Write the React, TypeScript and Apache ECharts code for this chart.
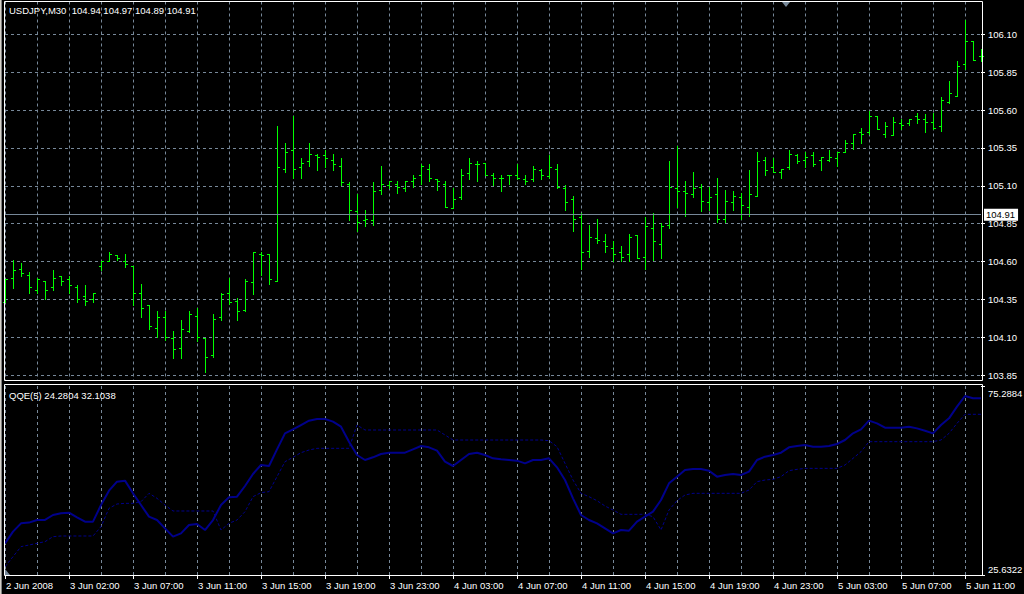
import React, { useEffect, useRef } from "react";
import * as echarts from "echarts";

// ---- Data ----
const tickLabels = [
  "2 Jun 2008", "3 Jun 02:00", "3 Jun 07:00", "3 Jun 11:00", "3 Jun 15:00", "3 Jun 19:00",
  "3 Jun 23:00", "4 Jun 03:00", "4 Jun 07:00", "4 Jun 11:00", "4 Jun 15:00", "4 Jun 19:00",
  "4 Jun 23:00", "5 Jun 03:00", "5 Jun 07:00", "5 Jun 11:00",
];

const openP = [
  104.33, 104.49, 104.55, 104.51, 104.41, 104.47, 104.43, 104.50, 104.48, 104.43,
  104.37, 104.35, 104.57, 104.60, 104.64, 104.60, 104.57, 104.39, 104.31, 104.16,
  104.23, 104.09, 104.03, 104.14, 104.24, 104.09, 103.98, 104.23, 104.39, 104.34,
  104.28, 104.46, 104.65, 104.65, 104.47, 105.21, 105.33, 105.22, 105.26, 105.30,
  105.30, 105.27, 105.23, 105.11, 104.93, 104.87, 104.87, 105.07, 105.10, 105.11,
  105.08, 105.13, 105.17, 105.21, 105.14, 105.11, 104.95, 105.02, 105.18, 105.24,
  105.25, 105.17, 105.15, 105.17, 105.17, 105.14, 105.14, 105.20, 105.16, 105.21,
  105.08, 105.01, 104.89, 104.67, 104.75, 104.73, 104.69, 104.66, 104.65, 104.77,
  104.63, 104.82, 104.71, 104.84, 105.08, 105.06, 105.04, 105.09, 104.99, 105.04,
  104.88, 104.99, 105.02, 104.96, 105.03, 105.27, 105.22, 105.19, 105.22, 105.30,
  105.27, 105.30, 105.27, 105.27, 105.28, 105.32, 105.38, 105.45, 105.45, 105.56,
  105.44, 105.43, 105.51, 105.51, 105.56, 105.54, 105.52, 105.49, 105.65, 105.69,
  105.90, 106.05, 105.95,
];
const highP = [
  104.48, 104.61, 104.59, 104.53, 104.49, 104.47, 104.54, 104.50, 104.50, 104.44,
  104.44, 104.39, 104.60, 104.66, 104.64, 104.65, 104.57, 104.45, 104.31, 104.27,
  104.27, 104.14, 104.21, 104.27, 104.29, 104.09, 104.25, 104.39, 104.49, 104.36,
  104.48, 104.66, 104.66, 104.65, 105.49, 105.38, 105.56, 105.28, 105.38, 105.31,
  105.33, 105.31, 105.28, 105.12, 105.04, 104.94, 105.12, 105.23, 105.13, 105.13,
  105.13, 105.17, 105.24, 105.24, 105.14, 105.13, 105.08, 105.21, 105.28, 105.26,
  105.25, 105.18, 105.17, 105.17, 105.24, 105.17, 105.23, 105.21, 105.30, 105.24,
  105.10, 105.03, 104.92, 104.84, 104.88, 104.78, 104.73, 104.70, 104.78, 104.77,
  104.89, 104.92, 104.85, 105.26, 105.36, 105.13, 105.19, 105.11, 105.09, 105.15,
  105.07, 105.06, 105.05, 105.20, 105.32, 105.29, 105.28, 105.21, 105.33, 105.31,
  105.32, 105.32, 105.29, 105.33, 105.32, 105.40, 105.44, 105.48, 105.59, 105.56,
  105.52, 105.55, 105.54, 105.54, 105.58, 105.57, 105.58, 105.68, 105.79, 105.92,
  106.19, 106.05, 106.00,
];
const lowP = [
  104.33, 104.42, 104.50, 104.39, 104.39, 104.35, 104.41, 104.44, 104.39, 104.33,
  104.31, 104.33, 104.54, 104.60, 104.61, 104.56, 104.31, 104.23, 104.15, 104.10,
  104.08, 103.96, 103.96, 104.13, 104.07, 103.87, 103.97, 104.21, 104.32, 104.21,
  104.27, 104.38, 104.51, 104.45, 104.47, 105.19, 105.15, 105.15, 105.23, 105.20,
  105.22, 105.20, 105.10, 104.87, 104.80, 104.83, 104.84, 105.04, 105.08, 105.05,
  105.06, 105.09, 105.11, 105.13, 105.07, 104.96, 104.95, 105.01, 105.14, 105.13,
  105.17, 105.10, 105.06, 105.11, 105.14, 105.11, 105.13, 105.14, 105.15, 105.08,
  104.94, 104.80, 104.55, 104.63, 104.72, 104.66, 104.60, 104.60, 104.60, 104.62,
  104.55, 104.61, 104.62, 104.82, 104.96, 104.90, 105.02, 104.93, 104.94, 104.86,
  104.86, 104.94, 104.88, 104.90, 105.03, 105.17, 105.19, 105.15, 105.21, 105.25,
  105.22, 105.23, 105.20, 105.26, 105.23, 105.32, 105.34, 105.38, 105.44, 105.47,
  105.42, 105.43, 105.47, 105.50, 105.51, 105.45, 105.47, 105.46, 105.64, 105.69,
  105.87, 105.93, 105.92,
];
const closeP = [
  104.48, 104.54, 104.52, 104.43, 104.48, 104.41, 104.49, 104.47, 104.44, 104.35,
  104.34, 104.39, 104.60, 104.65, 104.62, 104.58, 104.39, 104.29, 104.17, 104.23,
  104.10, 104.02, 104.15, 104.25, 104.10, 103.97, 104.22, 104.38, 104.33, 104.27,
  104.47, 104.66, 104.64, 104.48, 105.22, 105.32, 105.21, 105.25, 105.31, 105.29,
  105.28, 105.24, 105.12, 104.94, 104.86, 104.88, 105.06, 105.11, 105.13, 105.09,
  105.13, 105.15, 105.23, 105.15, 105.13, 104.96, 105.01, 105.17, 105.25, 105.24,
  105.17, 105.15, 105.15, 105.17, 105.15, 105.13, 105.21, 105.17, 105.22, 105.09,
  104.99, 104.88, 104.66, 104.76, 104.74, 104.70, 104.65, 104.63, 104.76, 104.62,
  104.83, 104.73, 104.83, 105.09, 105.06, 105.05, 105.08, 105.00, 105.02, 104.88,
  105.00, 105.03, 104.97, 105.04, 105.26, 105.20, 105.19, 105.21, 105.31, 105.26,
  105.29, 105.24, 105.29, 105.29, 105.32, 105.38, 105.44, 105.44, 105.56, 105.47,
  105.49, 105.52, 105.50, 105.54, 105.54, 105.52, 105.48, 105.66, 105.71, 105.89,
  106.05, 105.93, 105.95,
];

const qqeMain = [
  33.95, 37.02, 39.2, 39.4, 40.1, 40.1, 41.4, 41.83, 42.0, 40.78,
  39.64, 39.64, 44.02, 47.79, 50.15, 50.42, 47.09, 44.02, 40.96, 40.08,
  37.89, 35.7, 36.58, 38.77, 39.03, 37.45, 40.08, 44.02, 46.04, 46.21,
  49.01, 52.17, 54.53, 54.27, 58.65, 62.85, 63.9, 65.04, 66.18, 66.62,
  66.62, 65.92, 64.6, 60.66, 57.16, 55.85, 56.55, 57.42, 57.77, 57.77,
  57.77, 58.65, 59.53, 59.17, 58.3, 55.41, 54.27, 55.85, 57.42, 57.77,
  57.16, 56.28, 56.02, 55.85, 55.67, 54.97, 55.85, 55.85, 56.28, 53.92,
  50.59, 45.78, 41.39, 40.08, 39.2, 37.89, 36.58, 37.45, 37.28, 39.64,
  40.96, 42.27, 45.34, 49.71, 51.47, 53.22, 53.48, 53.48, 53.04, 51.47,
  51.9, 52.17, 51.9, 52.78, 55.85, 56.72, 57.16, 57.77, 59.17, 59.53,
  59.79, 59.35, 59.35, 59.53, 60.05, 61.1, 62.85, 63.9, 66.18, 65.48,
  64.34, 64.34, 64.34, 64.6, 64.16, 63.55, 62.85, 65.04, 66.79, 69.86,
  72.66, 72.05, 72.05,
];
const qqeSignal = [
  27.82, 30.45, 33.08, 33.51, 33.95, 34.39, 35.7, 35.88, 35.88, 35.88,
  35.88, 35.88, 38.33, 43.15, 44.29, 44.46, 44.46, 44.9, 47.09, 45.78,
  44.02, 42.45, 42.45, 42.45, 42.45, 42.45, 42.45, 37.45, 39.2, 40.08,
  42.27, 46.21, 47.26, 47.53, 51.47, 55.41, 56.55, 57.77, 58.47, 58.91,
  58.91, 58.91, 58.91, 58.91, 65.04, 63.73, 63.73, 63.73, 63.73, 63.73,
  63.73, 63.73, 63.73, 63.73, 63.73, 62.42, 61.1, 61.1, 61.1, 61.1,
  61.1, 61.1, 61.1, 61.1, 61.1, 61.1, 61.1, 61.1, 60.92, 59.35,
  54.97, 50.59, 47.09, 46.21, 45.16, 43.76, 42.71, 41.57, 41.57, 41.57,
  41.57, 40.96, 37.45, 42.71, 45.16, 46.65, 47.09, 47.09, 47.09, 47.09,
  47.09, 47.09, 47.09, 47.96, 50.15, 50.59, 50.77, 51.47, 53.04, 53.39,
  53.65, 53.65, 53.65, 53.65, 53.65, 54.53, 56.28, 58.03, 60.66, 60.66,
  60.66, 60.66, 60.66, 60.66, 60.66, 60.66, 60.66, 61.1, 62.85, 65.48,
  67.85, 67.85, 67.85,
];

const priceTicks = [103.85, 104.1, 104.35, 104.6, 104.85, 105.1, 105.35, 105.6, 105.85, 106.1];
const CURRENT_PRICE = 104.91;
const PRICE_MIN = 103.816;
const PRICE_MAX = 106.316;
const QQE_MIN = 25.6322;
const QQE_MAX = 75.2884;
const SYMBOL = "USDJPY,M30";
const headerValues = ["104.94", "104.97", "104.89", "104.91"];
const QQE_NAME = "QQE(5)";
const qqeHeaderValues = ["24.2804", "32.1038"];

const categories = openP.map((_, i) => (i % 8 === 0 ? tickLabels[i / 8] : "b" + i));
const ohlc = openP.map((o, i) => [i, o, highP[i], lowP[i], closeP[i]]);

const FONT = '"Liberation Sans", Arial, sans-serif';
const FS = 9.5;
const GRID_COLOR = "#778899";
const BAR_COLOR = "#00ff00";
const QQE_COLOR = "#00008b";

export default function App() {
  const ref = useRef<HTMLDivElement>(null);

  useEffect(() => {
    document.body.style.margin = "0";
    document.body.style.background = "#000";
    if (!ref.current) return;
    const chart = echarts.init(ref.current, undefined, { renderer: "svg" });

    const splitEvery4 = (i: number) => i % 4 === 0;
    const every8 = (i: number) => i % 8 === 0;

    const option: any = {
      animation: false,
      backgroundColor: "#000",
      textStyle: { fontFamily: FONT },
      grid: [
        { left: 5, right: 43, top: 1.5, bottom: 213.5 },
        { left: 5, right: 43, top: 386, bottom: 19 },
      ],
      xAxis: [
        {
          gridIndex: 0,
          type: "category",
          data: categories,
          boundaryGap: false,
          axisLine: { show: false },
          axisTick: { show: false },
          axisLabel: { show: false },
          splitLine: { show: true, interval: splitEvery4, lineStyle: { color: GRID_COLOR, type: [3, 3], width: 1 } },
        },
        {
          gridIndex: 1,
          type: "category",
          data: categories,
          boundaryGap: false,
          axisLine: { show: false },
          axisTick: { show: true, interval: every8, length: 4, lineStyle: { color: "#fff" } },
          axisLabel: {
            show: true,
            interval: every8,
            align: "left",
            margin: 5,
            color: "#fff",
            fontSize: FS,
            fontFamily: FONT,
            padding: [0, 0, 0, 1],
          },
          splitLine: { show: true, interval: splitEvery4, lineStyle: { color: GRID_COLOR, type: [3, 3], width: 1 } },
        },
      ],
      yAxis: [
        {
          gridIndex: 0,
          type: "value",
          position: "right",
          min: PRICE_MIN,
          max: PRICE_MAX,
          axisLine: { show: false },
          axisTick: { show: true, length: 4, customValues: priceTicks, lineStyle: { color: "#fff" } },
          axisLabel: {
            show: true,
            customValues: priceTicks,
            color: "#fff",
            fontSize: FS,
            fontFamily: FONT,
            margin: 7,
            formatter: (v: number) => v.toFixed(2),
          },
          splitLine: { show: true, lineStyle: { color: GRID_COLOR, type: [3, 3], width: 1 } },
        },
        {
          gridIndex: 1,
          type: "value",
          position: "right",
          min: QQE_MIN,
          max: QQE_MAX,
          axisLine: { show: false },
          axisTick: { show: true, length: 4, customValues: [QQE_MIN, QQE_MAX], lineStyle: { color: "#fff" } },
          axisLabel: { show: false },
          splitLine: { show: false },
        },
      ],
      series: [
        {
          type: "custom",
          xAxisIndex: 0,
          yAxisIndex: 0,
          data: ohlc,
          encode: { x: 0, y: [1, 2, 3, 4] },
          silent: true,
          renderItem: (_params: any, api: any) => {
            const idx = api.value(0);
            const pO = api.coord([idx, api.value(1)]);
            const pH = api.coord([idx, api.value(2)]);
            const pL = api.coord([idx, api.value(3)]);
            const pC = api.coord([idx, api.value(4)]);
            const x = Math.floor(pH[0]) + 0.5;
            const yH = Math.floor(pH[1]);
            const yL = Math.floor(pL[1]) + 1;
            const yO = Math.floor(pO[1]) + 0.5;
            const yC = Math.floor(pC[1]) + 0.5;
            const style = { stroke: BAR_COLOR, lineWidth: 1 };
            return {
              type: "group",
              children: [
                { type: "line", shape: { x1: x, y1: yH, x2: x, y2: yL }, style },
                { type: "line", shape: { x1: x - 2.5, y1: yO, x2: x - 0.5, y2: yO }, style },
                { type: "line", shape: { x1: x + 0.5, y1: yC, x2: x + 2.5, y2: yC }, style },
              ],
            };
          },
          markLine: {
            silent: true,
            symbol: "none",
            data: [{ yAxis: CURRENT_PRICE }],
            lineStyle: { color: GRID_COLOR, type: "solid", width: 1 },
            label: {
              show: true,
              position: "end",
              distance: 3,
              formatter: CURRENT_PRICE.toFixed(2),
              backgroundColor: "#fff",
              color: "#000",
              fontSize: FS,
              fontFamily: FONT,
              padding: [1, 3, 1, 2],
            },
          },
        },
        {
          type: "line",
          xAxisIndex: 1,
          yAxisIndex: 1,
          data: qqeMain,
          showSymbol: false,
          silent: true,
          lineStyle: { color: QQE_COLOR, width: 2 },
        },
        {
          type: "line",
          xAxisIndex: 1,
          yAxisIndex: 1,
          data: qqeSignal,
          showSymbol: false,
          silent: true,
          lineStyle: { color: QQE_COLOR, width: 1, type: [3, 2] },
        },
      ],
      graphic: [
        { type: "rect", silent: true, z: 100, shape: { x: 0, y: 0, width: 1, height: 594 }, style: { fill: "#d4d0c8" } },
        { type: "rect", silent: true, z: 100, shape: { x: 1, y: 0, width: 1, height: 594 }, style: { fill: "#808080" } },
        {
          type: "rect", silent: true, z: 100,
          shape: { x: 4.5, y: 1.5, width: 978, height: 379 },
          style: { fill: "transparent", stroke: "#fff", lineWidth: 1 },
        },
        {
          type: "rect", silent: true, z: 100,
          shape: { x: 4.5, y: 384.5, width: 978, height: 191 },
          style: { fill: "transparent", stroke: "#fff", lineWidth: 1 },
        },
        {
          type: "polygon", silent: true, z: 100,
          shape: { points: [[782, 2], [790, 2], [786, 7]] },
          style: { fill: GRID_COLOR },
        },
        {
          type: "polygon", silent: true, z: 100,
          shape: { points: [[5, 569], [5, 575], [10, 575]] },
          style: { fill: GRID_COLOR },
        },
        {
          type: "text", silent: true, z: 100, x: 9, y: 5,
          style: {
            text: SYMBOL + "  " + headerValues.join(" "),
            fill: "#fff", fontSize: FS, fontFamily: FONT, verticalAlign: "top",
          },
        },
        {
          type: "text", silent: true, z: 100, x: 9, y: 390,
          style: {
            text: QQE_NAME + " " + qqeHeaderValues.join(" "),
            fill: "#fff", fontSize: FS, fontFamily: FONT, verticalAlign: "top",
          },
        },
        {
          type: "text", silent: true, z: 100, x: 988, y: 388,
          style: { text: QQE_MAX.toFixed(4), fill: "#fff", fontSize: FS, fontFamily: FONT, verticalAlign: "top" },
        },
        {
          type: "text", silent: true, z: 100, x: 988, y: 564,
          style: { text: QQE_MIN.toFixed(4), fill: "#fff", fontSize: FS, fontFamily: FONT, verticalAlign: "top" },
        },
      ],
    };

    chart.setOption(option);
    return () => chart.dispose();
  }, []);

  return <div ref={ref} style={{ width: 1024, height: 594, background: "#000" }} />;
}
